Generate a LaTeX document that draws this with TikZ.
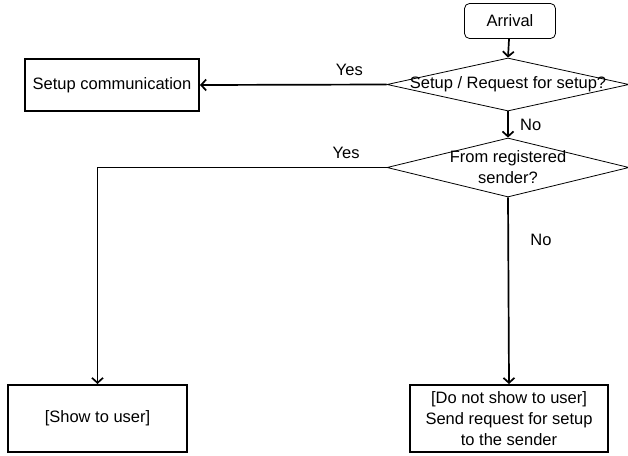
\documentclass[tikz,border=0pt]{standalone}
\usepackage{fontspec}
\setmainfont{Liberation Sans}
\usetikzlibrary{shapes.geometric,arrows.meta}
\tikzstyle{start} = [draw, rounded corners=5pt, line width=0.8pt, minimum width=91pt, minimum height=35pt, inner sep=0pt]
\tikzstyle{decision} = [draw, diamond, line width=0.8pt, minimum width=242pt, minimum height=53pt, inner sep=0pt]
\tikzstyle{label} = [align=center, inner sep=0pt]
\tikzstyle{box} = [draw, line width=2pt, inner sep=0pt, align=center]
\tikzstyle{line} = [line width=1.7pt, -{Straight Barb[length=5pt,width=11pt]}]

\begin{document}
\begin{tikzpicture}[x=1pt, y=-1pt, font=\fontsize{16.5}{21}\selectfont]
	\useasboundingbox (0,0) rectangle (628,455);
	\node[start] (arrival) at (510,21) {Arrival};
	\node[decision] (setupq) at (508,84.5) {};
	\node[label] (setupqtext) at (setupq.center) {Setup / Request for setup?};
	\node[box, minimum width=174pt, minimum height=52pt] (setupcomm) at (112,85) {Setup communication};
	\node[decision, minimum height=59pt] (regq) at (508,167.5) {};
	\node[label] (regqtext) at (regq.center) {From registered\\sender?};
	\node[box, minimum width=179pt, minimum height=67pt] (show) at (97.5,418.5) {[Show to user]};
	\node[box, minimum width=198pt, minimum height=67pt] (noshow) at (509,418.5) {[Do not show to user]\\Send request for setup\\to the sender};

	\draw[line] (arrival) -- (setupq.north);
	\draw[line] (setupq.west) -- (setupcomm.east)
		node[pos=0.2, above=5pt] {Yes};
	\draw[line] (setupq.south) -- (regq.north)
		node[midway, right=8pt] {No};
	\draw[line] (regq.west) -| (show.north)
		node[pos=0.07, above=5pt] {Yes};
	\draw[line] (regq.south) -- (noshow.north)
		node[pos=0.23, right=18pt] {No};
\end{tikzpicture}
\end{document}
